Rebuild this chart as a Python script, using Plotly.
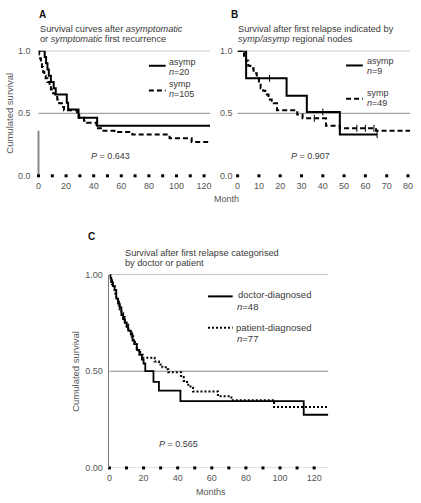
import plotly.graph_objects as go

# ---------------- data ----------------
# Panel A: asymptomatic vs symptomatic first recurrence
A_asymp_t = [0, 4.5, 5.5, 6.5, 7.5, 9, 11, 12.5, 20.5, 21.5, 29, 42.5, 124.3]
A_asymp_s = [1.0, 0.95, 0.90, 0.85, 0.80, 0.75, 0.70, 0.65, 0.585, 0.53, 0.465, 0.40, 0.40]
A_symp_t = [0, 0.5, 1, 1.7, 2.5, 3.4, 4.2, 5.2, 6.5, 8, 9, 10.5, 12, 13.6, 15, 17, 18.5,
            28, 29.5, 33, 35, 42, 46, 55, 68, 95, 111, 124.3]
A_symp_s = [1.0, 0.97, 0.94, 0.90, 0.87, 0.83, 0.80, 0.78, 0.75, 0.72, 0.69, 0.66, 0.63, 0.61, 0.58, 0.55, 0.525,
            0.49, 0.465, 0.44, 0.425, 0.38, 0.36, 0.35, 0.33, 0.30, 0.27, 0.27]

# Panel B: symp/asymp regional nodes
B_asymp_t = [0, 4, 23, 32.5, 48, 65.5]
B_asymp_s = [1.0, 0.78, 0.64, 0.51, 0.33, 0.33]
B_asymp_cens_t = [15, 40, 65.5]
B_asymp_cens_s = [0.78, 0.51, 0.33]
B_symp_t = [0, 2, 3, 4, 5, 6, 7.5, 9, 10, 10.8, 12, 13, 14.5, 16, 17, 18.5, 28, 30.5, 41.5, 48, 65, 81]
B_symp_s = [1.0, 0.98, 0.96, 0.92, 0.88, 0.86, 0.82, 0.78, 0.74, 0.70, 0.68, 0.65, 0.61, 0.60, 0.58, 0.525,
            0.49, 0.46, 0.40, 0.38, 0.36, 0.36]
B_symp_cens_t = [36, 56, 60, 64]
B_symp_cens_s = [0.46, 0.38, 0.38, 0.38]

# Panel C: doctor vs patient diagnosed
C_doc_t = [0, 0.5, 1, 2, 3, 4, 5, 6, 7, 8, 9, 10, 11, 12.5, 13.5, 14.5, 16, 17.5, 19, 20, 21,
           25.8, 29, 41.6, 113.9, 128.3]
C_doc_s = [1.0, 0.98, 0.96, 0.94, 0.92, 0.875, 0.85, 0.83, 0.79, 0.77, 0.75, 0.73, 0.71, 0.69, 0.66, 0.64,
           0.61, 0.585, 0.56, 0.54, 0.50, 0.445, 0.40, 0.345, 0.275, 0.275]
C_pat_t = [0, 0.5, 1, 1.5, 2, 3, 3.5, 4, 5, 5.5, 6, 7, 8, 9, 10, 11, 12, 13, 14, 15, 16, 17, 18, 19.5,
           26.5, 29, 31, 33, 34.5, 42, 43.5, 45.5, 47.5, 49, 63.6, 71.5, 96.5, 128.3]
C_pat_s = [1.0, 0.99, 0.97, 0.95, 0.94, 0.92, 0.90, 0.88, 0.86, 0.84, 0.82, 0.80, 0.78, 0.76, 0.74, 0.72,
           0.70, 0.68, 0.66, 0.64, 0.62, 0.60, 0.585, 0.57, 0.55, 0.535, 0.52, 0.51, 0.495, 0.47, 0.45,
           0.43, 0.415, 0.395, 0.37, 0.35, 0.315, 0.315]

A_xticks = [0, 20, 40, 60, 80, 100, 120]
B_xticks = [0, 10, 20, 30, 40, 50, 60, 70, 80]
C_xticks = [0, 20, 40, 60, 80, 100, 120]
A_dots = list(range(0, 121, 10))
B_dots = list(range(0, 81, 10))
C_dots = list(range(0, 121, 10))
AB_yticks = [0, 0.5, 1.0]
AB_ylabels = ["0.0", "0.5", "1.0"]
C_yticks = [0, 0.5, 1.0]
C_ylabels = ["0.00", "0.50", "1.00"]

W, H = 421, 503
FONT = "Liberation Sans, Arial, sans-serif"
TXT = "#3a3a3a"
TICK = "#555555"
GRID = "#8a8a8a"


def px(x):
    return x / W


def py(y):
    return 1 - y / H


fig = go.Figure()

def step(x, y, xa, ya, dash, width=2):
    fig.add_trace(go.Scatter(x=x, y=y, mode="lines", xaxis=xa, yaxis=ya,
                             line=dict(shape="hv", color="black", width=width, dash=dash),
                             cliponaxis=False, showlegend=False, hoverinfo="skip"))

def cens(x, y, xa, ya):
    fig.add_trace(go.Scatter(x=x, y=y, mode="markers", xaxis=xa, yaxis=ya,
                             marker=dict(symbol="line-ns", size=5, color="black",
                                         line=dict(color="black", width=1)),
                             cliponaxis=False, showlegend=False, hoverinfo="skip"))

def dots(x, xa, ya):
    fig.add_trace(go.Scatter(x=x, y=[0] * len(x), mode="markers", xaxis=xa, yaxis=ya,
                             marker=dict(symbol="square", size=3, color="black"),
                             cliponaxis=False, showlegend=False, hoverinfo="skip"))

# Panel A
step(A_symp_t, A_symp_s, "x", "y", "5px,3px")
step(A_asymp_t, A_asymp_s, "x", "y", "solid")
dots(A_dots, "x", "y")
# Panel B
step(B_symp_t, B_symp_s, "x2", "y2", "5px,3px")
step(B_asymp_t, B_asymp_s, "x2", "y2", "solid")
cens(B_asymp_cens_t, B_asymp_cens_s, "x2", "y2")
cens(B_symp_cens_t, B_symp_cens_s, "x2", "y2")
dots(B_dots, "x2", "y2")
# Panel C
step(C_pat_t, C_pat_s, "x3", "y3", "2px,2px", 2)
step(C_doc_t, C_doc_s, "x3", "y3", "solid", 1.8)
dots(C_dots, "x3", "y3")

axfont = dict(family=FONT, size=9, color=TICK)
common_x = dict(showgrid=False, zeroline=False, showline=False, ticks="", tickfont=axfont,
                ticklabelstandoff=3, fixedrange=True)
common_y = dict(showgrid=False, zeroline=False, ticks="", tickfont=axfont,
                range=[0, 1], fixedrange=True)

fig.update_layout(
    width=W, height=H, margin=dict(l=0, r=0, t=0, b=0),
    paper_bgcolor="white", plot_bgcolor="rgba(0,0,0,0)",
    font=dict(family=FONT, color=TXT),
    xaxis=dict(domain=[px(36), px(210)], range=[0, 124.3], tickvals=A_xticks, anchor="y", **common_x),
    yaxis=dict(domain=[py(174.3), py(46.7)], tickvals=AB_yticks, ticktext=AB_ylabels, anchor="x",
               ticklabelstandoff=7, showline=False, **common_y),
    xaxis2=dict(domain=[px(238), px(413)], range=[0, 81], tickvals=B_xticks, anchor="y2", **common_x),
    yaxis2=dict(domain=[py(174.3), py(46.7)], tickvals=AB_yticks, ticktext=AB_ylabels, anchor="x2",
                ticklabelstandoff=4, showline=False, **common_y),
    xaxis3=dict(domain=[px(108), px(330)], range=[0, 128.3], tickvals=C_xticks, anchor="y3", **common_x),
    yaxis3=dict(domain=[py(472.3), py(275)], tickvals=C_yticks, ticktext=C_ylabels, anchor="x3",
                ticklabelstandoff=4, showline=True, linecolor="#777", linewidth=1, **common_y),
)

shapes = []
for xa, ya in (("x", "y"), ("x2", "y2"), ("x3", "y3")):
    for yv in (0.5, 1.0):
        shapes.append(dict(type="line", xref=f"{xa} domain", yref=ya, x0=0, x1=1, y0=yv, y1=yv,
                           line=dict(color=GRID, width=1), layer="below"))
# partial left axis in panel A
shapes.append(dict(type="line", xref="x domain", yref="y", x0=0, x1=0, y0=0, y1=0.36,
                   line=dict(color="#888", width=2), layer="below"))
# faint baseline in panel C
shapes.append(dict(type="line", xref="x3 domain", yref="y3", x0=0, x1=1, y0=0, y1=0,
                   line=dict(color="#cccccc", width=1), layer="below"))

# legend samples
def sample(x0, x1, y, dash, width=2):
    shapes.append(dict(type="line", xref="paper", yref="paper", x0=px(x0), x1=px(x1), y0=py(y), y1=py(y),
                       line=dict(color="black", width=width, dash=dash)))

sample(148, 165, 62, "solid")
sample(148, 165, 87.3, "5px,3px")
sample(348, 365, 61.7, "solid")
sample(348, 365, 95.7, "5px,3px")
sample(208, 233, 297.3, "solid")
sample(208, 233, 329.3, "2px,2px")
fig.update_layout(shapes=shapes)

ann = []
def text(x, y, s, size=9, xanchor="left", color=TXT, bold=False):
    if bold:
        s = f"<b>{s}</b>"
    ann.append(dict(x=px(x), y=py(y), xref="paper", yref="paper", text=s, showarrow=False,
                    xanchor=xanchor, yanchor="middle", borderpad=0,
                    font=dict(family=FONT, size=size, color=color)))

# panel letters
text(35.5, 9.3, "A", 10, bold=True, color="#111")
text(230.5, 9.3, "B", 10, bold=True, color="#111")
text(85, 235.7, "C", 10, bold=True, color="#111")
# titles
text(36.5, 24.5, "Survival curves after <i>asymptomatic</i>", 9.2)
text(36.5, 35, "or <i>symptomatic</i> first recurrence", 9.2)
text(237, 24.5, "Survival after first relapse indicated by", 9.2)
text(237, 35, "<i>symp/asymp</i> regional nodes", 9.2)
text(123, 252.8, "Survival after first relapse categorised", 9.2)
text(123, 263.5, "by doctor or patient", 9.2)
# legends
text(167.5, 58, "asymp", 9)
text(167.5, 68.5, "<i>n</i>=20", 9)
text(167.5, 80.5, "symp", 9)
text(167.5, 91, "<i>n</i>=105", 9)
text(368, 57, "asymp", 9)
text(368, 67.7, "<i>n</i>=9", 9)
text(368, 89.5, "symp", 9)
text(368, 100.2, "<i>n</i>=49", 9)
text(237.5, 295.3, "doctor-diagnosed", 9.5)
text(236.5, 307.3, "<i>n</i>=48", 9.5)
text(235, 329.3, "patient-diagnosed", 9.5)
text(236.5, 340.5, "<i>n</i>=77", 9.5)
# p-values
text(109, 154, "<i>P</i> = 0.643", 9, xanchor="center")
text(312, 154, "<i>P</i> = 0.907", 9, xanchor="center")
text(178.5, 447.7, "<i>P</i> = 0.565", 9, xanchor="center")
# axis titles
text(226.5, 197.7, "Month", 9, xanchor="center", color=TICK)
text(211.5, 496.5, "Months", 9, xanchor="center", color=TICK)
ann.append(dict(x=px(7), y=py(110), xref="paper", yref="paper", text="Cumulated survival", showarrow=False,
                textangle=-90, xanchor="center", yanchor="middle", font=dict(family=FONT, size=9.5, color=TICK)))
ann.append(dict(x=px(73.3), y=py(374), xref="paper", yref="paper", text="Cumulated survival", showarrow=False,
                textangle=-90, xanchor="center", yanchor="middle", font=dict(family=FONT, size=9.5, color=TICK)))
fig.update_layout(annotations=ann)

fig.write_html("out.html", config={"displayModeBar": False},
               post_script="document.body.style.margin='0px';document.body.style.overflow='hidden';")
